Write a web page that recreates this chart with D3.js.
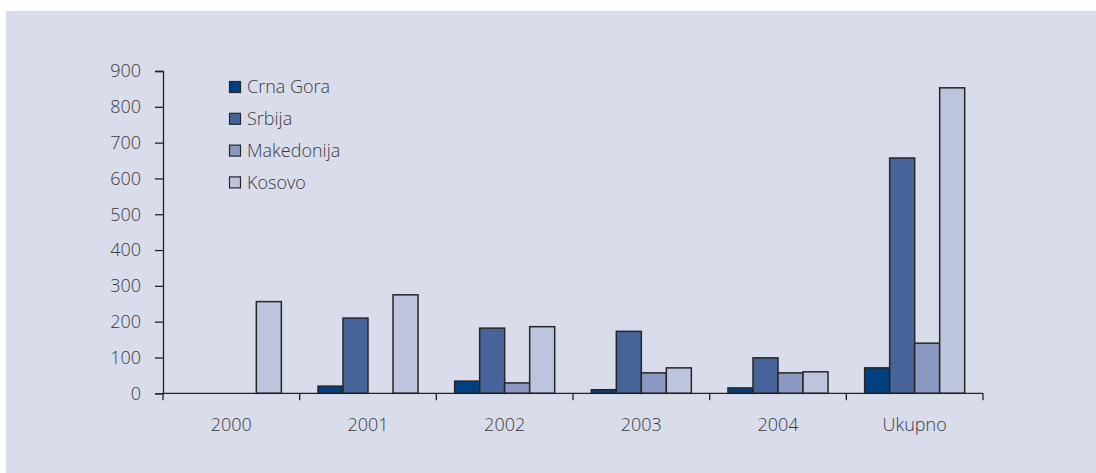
<!DOCTYPE html>
<html>
<head>
<meta charset="utf-8">
<script src="https://cdn.jsdelivr.net/npm/d3@7"></script>
<style>
html,body{margin:0;padding:0;background:#fff;}
svg{display:block;}
text{font-family:"Open Sans","DejaVu Sans",sans-serif;fill:#3a3a3a;font-weight:300;}
</style>
</head>
<body>
<svg id="chart" width="1096" height="473"></svg>
<script>
const categories = ["2000", "2001", "2002", "2003", "2004", "Ukupno"];
const seriesNames = ["Crna Gora", "Srbija", "Makedonija", "Kosovo"];
const crnaGora   = [0, 20, 34, 10, 15, 71];
const srbija     = [0, 210, 182, 173, 99, 657];
const makedonija = [0, 0, 29, 57, 57, 140];
const kosovo     = [256, 275, 186, 71, 60, 853];
const yTicks = [0, 100, 200, 300, 400, 500, 600, 700, 800, 900];
const colors = ["#003f80", "#46649a", "#8a99c2", "#bcc4de"];

(function () {
const seriesValues = [crnaGora, srbija, makedonija, kosovo];
const data = categories.map((c, i) => ({
  cat: c,
  values: seriesNames.map((s, j) => ({ series: s, idx: j, value: seriesValues[j][i] }))
}));

const svg = d3.select("#chart");
svg.append("rect").attr("x", 6).attr("y", 11).attr("width", 1090).attr("height", 462).attr("fill", "#d9ddeb");

const mLeft = 163, mRight = 983, mTop = 71, mBottom = 393.3;

const x0 = d3.scaleBand().domain(categories).range([mLeft, mRight]).padding(0);
const bw = x0.bandwidth();
const x1 = d3.scaleBand().domain(seriesNames).range([bw * 0.134, bw * 0.866]).padding(0);

const y = d3.scaleLinear().domain([0, 900]).range([mBottom, mTop]);

svg.append("g").selectAll("g.grp").data(data).join("g")
  .attr("class", "grp")
  .attr("transform", d => `translate(${x0(d.cat)},0)`)
  .selectAll("rect").data(d => d.values.filter(v => v.value > 0)).join("rect")
  .attr("x", d => x1(d.series))
  .attr("width", x1.bandwidth())
  .attr("y", d => y(d.value))
  .attr("height", d => y(0) - y(d.value))
  .attr("fill", d => colors[d.idx])
  .attr("stroke", "#262626")
  .attr("stroke-width", 1.5);

// Y axis
const yAxis = d3.axisLeft(y).tickValues(yTicks).tickSize(8).tickPadding(14);
const ya = svg.append("g").attr("transform", `translate(${mLeft},0)`).call(yAxis);
ya.select(".domain").attr("stroke", "#222").attr("stroke-width", 1.3);
ya.selectAll(".tick line").attr("stroke", "#222").attr("stroke-width", 1.3);
ya.selectAll("text").style("font-size", "18px").attr("fill", "#3a3a3a")
  .style("font-family", "'Open Sans', sans-serif").style("font-weight", "300");

// X axis
const xa = svg.append("g").attr("transform", `translate(0,${mBottom})`);
xa.append("line").attr("x1", mLeft).attr("x2", mRight).attr("y1", 0).attr("y2", 0)
  .attr("stroke", "#222").attr("stroke-width", 1.3);
const tickPos = categories.map(c => x0(c)).concat([x0(categories[categories.length - 1]) + bw]);
xa.selectAll("line.t").data(tickPos).join("line").attr("class", "t")
  .attr("x1", d => d).attr("x2", d => d).attr("y1", 0).attr("y2", 7)
  .attr("stroke", "#222").attr("stroke-width", 1.3);
xa.selectAll("text").data(categories).join("text")
  .attr("x", d => x0(d) + bw / 2)
  .attr("y", 37.5)
  .attr("text-anchor", "middle")
  .style("font-size", "18px")
  .text(d => d);

// Legend
const lg = svg.append("g").attr("transform", "translate(229,81)");
const li = lg.selectAll("g").data(seriesNames).join("g")
  .attr("transform", (d, i) => `translate(0,${i * 31.8})`);
li.append("rect").attr("x", 0.5).attr("y", 0.5).attr("width", 11).attr("height", 11)
  .attr("fill", (d, i) => colors[i]).attr("stroke", "#262626").attr("stroke-width", 1.2);
li.append("text").attr("x", 18).attr("y", 6).attr("dy", "0.35em")
  .style("font-size", "18px").text(d => d);
})();
</script>
</body>
</html>
